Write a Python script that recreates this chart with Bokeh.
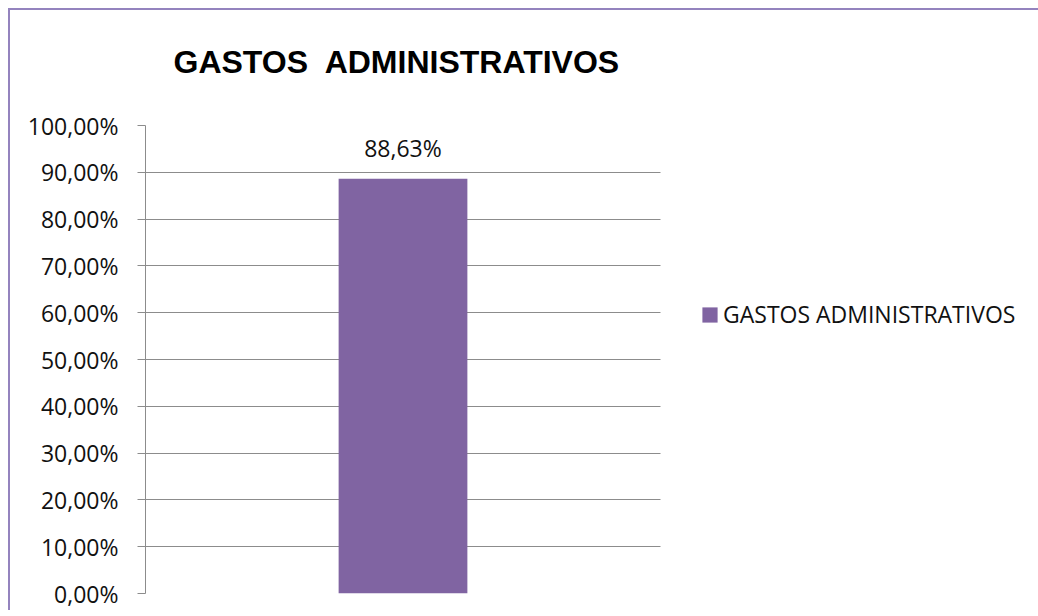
from bokeh.plotting import figure
from bokeh.models import Range1d, FixedTicker, Legend, LegendItem, ColumnDataSource
from bokeh.core.properties import value
from bokeh.embed import file_html
from bokeh.resources import INLINE

# ---- data ----
title_text = "GASTOS  ADMINISTRATIVOS"
series_name = "GASTOS ADMINISTRATIVOS"
categories = ["GASTOS ADMINISTRATIVOS"]
values = [0.8863]
value_labels = ["88,63%"]
y_ticks = [0.0, 0.1, 0.2, 0.3, 0.4, 0.5, 0.6, 0.7, 0.8, 0.9, 1.0]
y_tick_labels = ["0,00%", "10,00%", "20,00%", "30,00%", "40,00%", "50,00%",
                 "60,00%", "70,00%", "80,00%", "90,00%", "100,00%"]

BAR = "#8064A2"
GRID = "#8C8C8C"
FRAME_C = "#9483BE"
TICK_FONT = "Open Sans"
TXT = "#111111"

W, H = 1038, 610
LEFT, TOP = 145, 125
BOTTOM = H - 593
PLOT_W = 515                      # width of the category area (px)
n = len(categories)
x_end = n * (W - LEFT) / PLOT_W   # extra room on the right holds the legend

chart_bg = ("linear-gradient(%s,%s) 8px 8px / 2px 100%% no-repeat, "
            "linear-gradient(%s,%s) 8px 8px / 100%% 2px no-repeat, white"
            % (FRAME_C, FRAME_C, FRAME_C, FRAME_C))

p = figure(width=W, height=H, x_range=Range1d(0, x_end), y_range=Range1d(0, 1),
           output_backend="svg", toolbar_location=None,
           min_border_left=LEFT, min_border_right=0, min_border_top=TOP,
           min_border_bottom=BOTTOM, styles={"background": chart_bg})
p.outline_line_color = None
p.background_fill_color = None
p.border_fill_color = None

p.title.text = title_text.replace("  ", "\u00a0 ")
p.title.text_font = "Liberation Sans"
p.title.text_font_style = "bold"
p.title.text_font_size = "32px"
p.title.align = "left"
p.title.offset = 28
p.title.vertical_align = "top"
p.title.standoff = 87
p.title.text_color = "black"

xs = [i + 0.5 for i in range(n)]
src = ColumnDataSource(dict(x=xs, cat=categories, top=values, lab=value_labels))
r = p.vbar(x="x", top="top", width=0.25, source=src, fill_color=BAR, line_color=None)

p.text(x="x", y="top", text="lab", source=src, text_align="center",
       text_baseline="alphabetic", y_offset=-31, text_font=value(TICK_FONT),
       text_font_size="23px", text_color=TXT)

p.xaxis.visible = False
p.xgrid.visible = False
p.ygrid.ticker = FixedTicker(ticks=y_ticks)
p.ygrid.grid_line_color = GRID
p.ygrid.grid_line_width = 1
p.ygrid.cross_bounds = (0, n)

ax = p.yaxis[0]
ax.ticker = FixedTicker(ticks=y_ticks)
ax.major_label_overrides = {t: l for t, l in zip(y_ticks, y_tick_labels)}
ax.major_tick_out = 8
ax.major_tick_in = 0
ax.minor_tick_out = 0
ax.minor_tick_in = 0
ax.axis_line_color = GRID
ax.major_tick_line_color = GRID
ax.major_label_text_font = TICK_FONT
ax.major_label_text_font_size = "23px"
ax.major_label_text_color = TXT
ax.major_label_standoff = 19

legend = Legend(items=[LegendItem(label=series_name, renderers=[r])],
                location=(555, 263), padding=0, margin=0, spacing=0,
                border_line_color=None, background_fill_alpha=0,
                glyph_width=19, glyph_height=19, label_standoff=4,
                label_text_font=TICK_FONT, label_text_font_size="23px",
                label_text_color=TXT, label_height=23)
p.add_layout(legend, "center")

open("out.html", "w").write(file_html(p, INLINE))
